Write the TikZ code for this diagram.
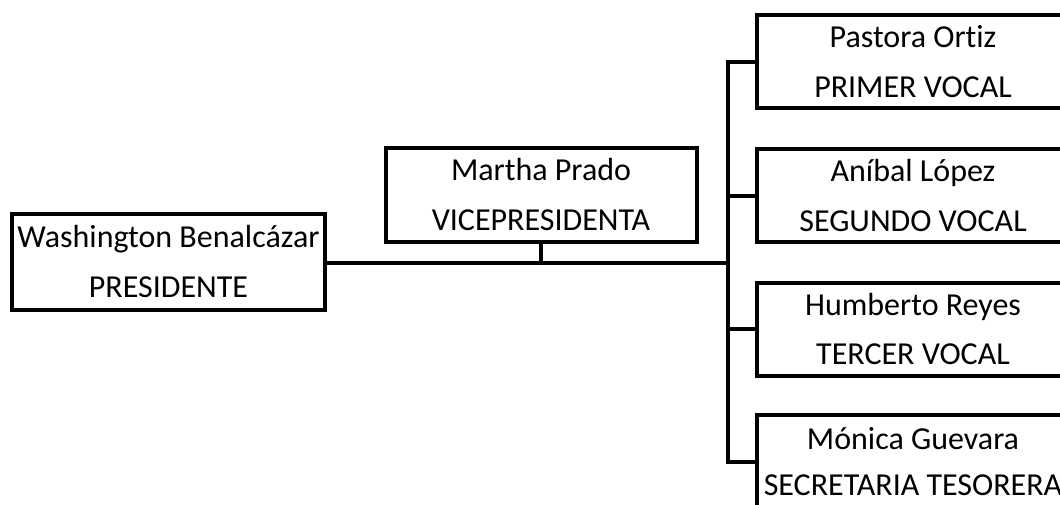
\documentclass[tikz,border=0pt]{standalone}
\usepackage{fontspec}
\setmainfont[Ligatures=NoCommon]{Carlito}
\begin{document}
\begin{tikzpicture}[x=0.75pt,y=-0.75pt,
  box/.style={draw=black,line width=3pt,rectangle,align=center,inner sep=0pt,
    font=\fontsize{24}{37}\selectfont,text=black},
  conn/.style={draw=black,line width=3pt,line cap=rect}]
\useasboundingbox (0,0) rectangle (1060,504);
\clip (0,0) rectangle (1060,504);
\node[box,minimum width=313*0.75pt,minimum height=96*0.75pt] (pres) at (168.5,261.5) {Washington Benalcázar\\PRESIDENTE};
\node[box,minimum width=311*0.75pt,minimum height=94*0.75pt] (vp) at (541,194.5) {Martha Prado\\VICEPRESIDENTA};
\node[box,minimum width=312*0.75pt,minimum height=93*0.75pt] (r1) at (913,61.5) {Pastora Ortiz\\PRIMER VOCAL};
\node[box,minimum width=312*0.75pt,minimum height=93*0.75pt] (r2) at (913,195.5) {Aníbal López\\SEGUNDO VOCAL};
\node[box,minimum width=312*0.75pt,minimum height=93*0.75pt] (r3) at (913,329) {Humberto Reyes\\TERCER VOCAL};
\node[box,minimum width=312*0.75pt,minimum height=93*0.75pt,font=\fontsize{24}{35}\selectfont] (r4) at (913,461.5) {Mónica Guevara\\SECRETARIA TESORERA};
\coordinate (tk) at (728,263);
\draw[conn] (pres.east |- tk) -- (tk);
\draw[conn] (vp.south) -- (vp.south |- tk);
\draw[conn] (tk |- r1.west) -- (tk |- r4.west);
\draw[conn] (r1.west) -- (r1.west -| tk);
\draw[conn] (r2.west) -- (r2.west -| tk);
\draw[conn] (r3.west) -- (r3.west -| tk);
\draw[conn] (r4.west) -- (r4.west -| tk);
\end{tikzpicture}
\end{document}
